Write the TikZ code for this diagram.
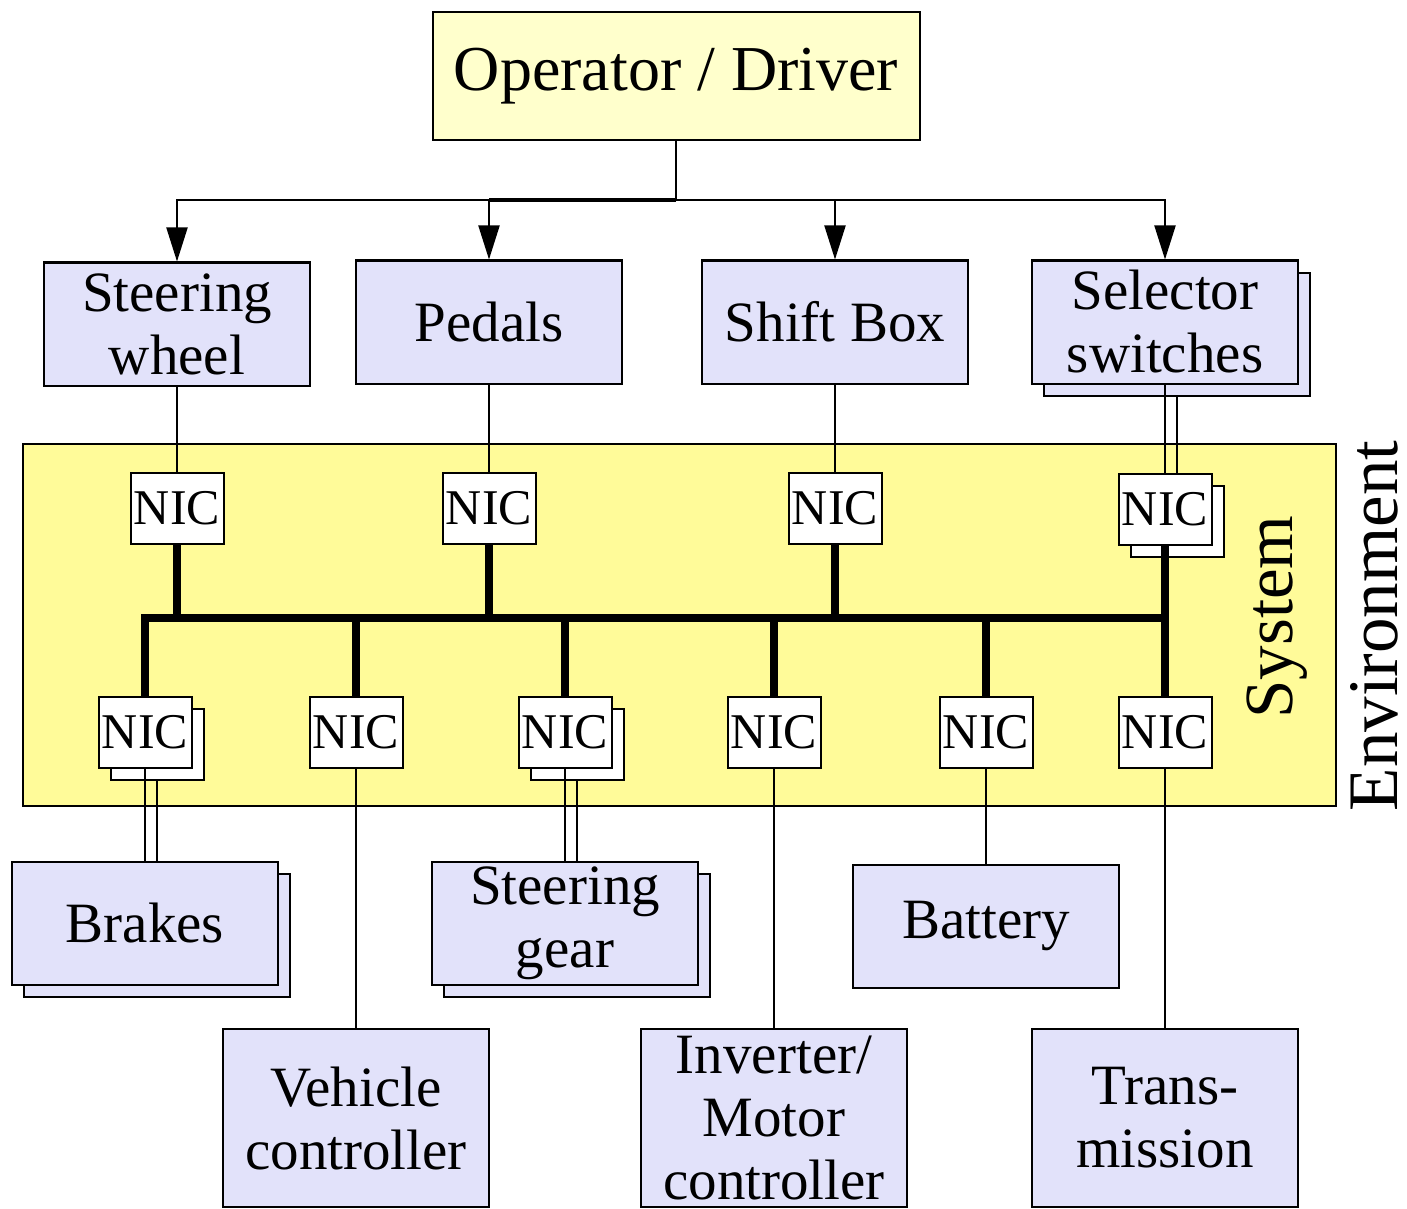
\documentclass[tikz,border=0pt]{standalone}
\usepackage{fontspec}
\setmainfont{Liberation Serif}
\usetikzlibrary{arrows.meta,shadows}
\definecolor{opfill}{RGB}{255,255,204}
\definecolor{sysfill}{RGB}{255,251,153}
\definecolor{unitfill}{RGB}{226,226,250}

\begin{document}
\begin{tikzpicture}[x=0.5pt,y=-0.5pt,
    unit/.style={draw=black,line width=1pt,fill=unitfill,align=center,inner sep=0pt,
      minimum width=133pt,minimum height=61.5pt,font=\fontsize{28.5}{31.5}\selectfont},
    tall/.style={minimum height=89pt},
    stack/.style={copy shadow={shadow xshift=6pt,shadow yshift=-6pt}},
    nic/.style={draw=black,line width=1pt,fill=white,inner sep=0pt,
      minimum width=46.5pt,minimum height=35.5pt,font=\fontsize{25}{25}\selectfont},
    link/.style={line width=1pt},
    bus/.style={line width=3.8pt},
    feed/.style={line width=1pt,-{Triangle[length=17pt,width=10.5pt]}}]
  \useasboundingbox (0,0) rectangle (1407,1209);

  % operator and controls
  \node[draw=black,line width=1pt,fill=opfill,minimum width=243.5pt,minimum height=64pt,
    font=\fontsize{32}{36}\selectfont] (op) at (676,76) {Operator / Driver};
  \node[unit] (wheel) at (177,324) {Steering\\wheel};
  \node[unit] (pedals) at (489,322) {Pedals};
  \node[unit] (shift) at (835,322) {Shift Box};
  \node[unit,stack] (selector) at (1165,322) {Selector\\switches};

  \coordinate (split) at (676,200);
  \draw[link] (op.south) -- (split);
  \draw[line width=2pt] (split) -- (split -| pedals.north);
  \foreach \t in {wheel,pedals,shift,selector}{
    \draw[feed] (split) -| (\t.north);
  }

  % system
  \draw[line width=1pt,fill=sysfill] (23,444) rectangle (1336,806);
  \node[rotate=90,inner sep=0pt,font=\fontsize{34.5}{36}\selectfont] (system) at (1277,617) {System};
  \node[rotate=90,inner sep=0pt,font=\fontsize{35.5}{38}\selectfont] (env) at (1374,626) {Environment};

  \foreach \n/\x in {1/177,2/489,3/835}{
    \node[nic] (nicT\n) at (\x,508) {NIC};
  }
  \node[nic,stack] (nicT4) at (1165,509) {NIC};
  \foreach \n/\x in {2/356,4/774,5/986,6/1165}{
    \node[nic] (nicB\n) at (\x,732) {NIC};
  }
  \node[nic,stack] (nicB1) at (145,732) {NIC};
  \node[nic,stack] (nicB3) at (565,732) {NIC};

  % bus
  \coordinate (busL) at (145,618);
  \coordinate (busR) at (1165,618);
  \draw[bus,line join=miter] (nicB1.north) -- (busL) -- (busR) -- (nicB6.north);
  \foreach \t in {nicT1,nicT2,nicT3,nicT4}{
    \draw[bus] (\t.south) -- (\t.south |- busL);
  }
  \foreach \t in {nicB2,nicB3,nicB4,nicB5}{
    \draw[bus] (\t.north) -- (\t.north |- busL);
  }

  % devices
  \node[unit,stack] (brakes) at (145,923) {Brakes};
  \node[unit,stack] (gear) at (565,923) {Steering\\gear};
  \node[unit] (battery) at (986,926) {Battery};
  \node[unit,tall] (vehicle) at (356,1118) {Vehicle\\controller};
  \node[unit,tall] (inverter) at (774,1118) {Inverter/\\Motor\\controller};
  \node[unit,tall] (trans) at (1165,1118) {Trans-\\mission};

  % links
  \draw[link] (wheel.south) -- (nicT1.north);
  \draw[link] (pedals.south) -- (nicT2.north);
  \draw[link] (shift.south) -- (nicT3.north);
  \draw[link] (selector.south) -- (nicT4.north);
  \draw[link] ([xshift=6pt,yshift=-6pt]selector.south) -- ([xshift=6pt]nicT4.north);
  \draw[link] (nicB1.south) -- (brakes.north);
  \draw[link] ([xshift=6pt,yshift=-6pt]nicB1.south) -- ([xshift=6pt]brakes.north);
  \draw[link] (nicB3.south) -- (gear.north);
  \draw[link] ([xshift=6pt,yshift=-6pt]nicB3.south) -- ([xshift=6pt]gear.north);
  \draw[link] (nicB2.south) -- (vehicle.north);
  \draw[link] (nicB4.south) -- (inverter.north);
  \draw[link] (nicB5.south) -- (battery.north);
  \draw[link] (nicB6.south) -- (trans.north);
\end{tikzpicture}
\end{document}
